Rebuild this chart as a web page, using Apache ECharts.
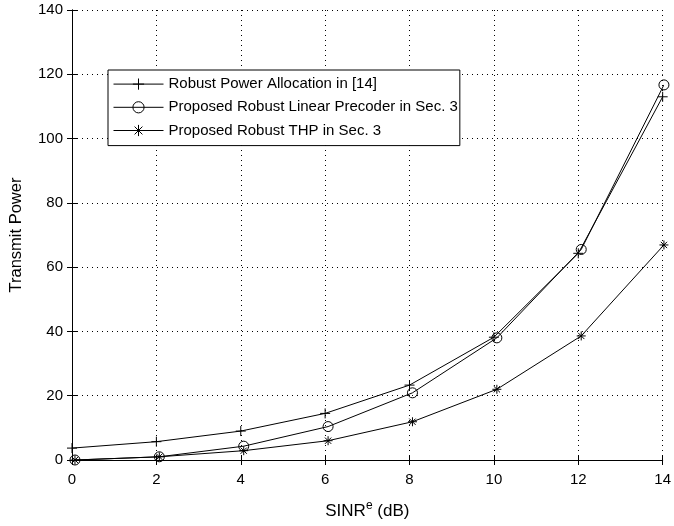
<!DOCTYPE html>
<html>
<head>
<meta charset="utf-8">
<script src="https://cdn.jsdelivr.net/npm/echarts@6/dist/echarts.min.js"></script>
<style>
  html, body { margin: 0; padding: 0; background: #fff; }
  #chart { width: 674px; height: 526px; }
</style>
</head>
<body>
<div id="chart"></div>
<script>
// 数据
var xPlus = [0, 2, 4, 6, 8, 10, 12, 14];
var xShift = [0.07, 2.07, 4.07, 6.07, 8.07, 10.07, 12.07, 14.03];
var robustPA = [3.7, 5.7, 9.0, 14.5, 23.3, 38.2, 64.3, 113];
var robustLinear = [0, 1.0, 4.3, 10.4, 20.9, 38.0, 65.5, 116.7];
var robustTHP = [0, 1.0, 2.9, 6.0, 11.9, 22.0, 38.6, 66.9];
var seriesNames = ['Robust Power Allocation in [14]', 'Proposed Robust Linear Precoder in Sec. 3', 'Proposed Robust THP in Sec. 3'];

function pairs(xs, ys) {
  var out = [];
  ys.forEach(function(v, i) { out.push([xs[i], v]); });
  return out;
}

// 标记形状（只描边）
var plusPath = 'path://M0,-1L0,1M-1,0L1,0';
var circlePath = 'path://M1,0A1,1,0,1,1,-1,0A1,1,0,1,1,1,0Z';
var starPath = 'path://M0,-1L0,1M-1,0L1,0M-0.7,-0.7L0.7,0.7M-0.7,0.7L0.7,-0.7';
var font = 'Liberation Sans, Arial, sans-serif';

var chart = echarts.init(document.getElementById('chart'));

function lineSeries(name, data, symbol, size) {
  return {
    name: name,
    type: 'line',
    data: data,
    symbol: symbol,
    symbolSize: size,
    showAllSymbol: true,
    clip: false,
    lineStyle: { color: '#000', width: 1 },
    itemStyle: { color: 'none', borderColor: '#000', borderWidth: 1 },
    emphasis: { disabled: true },
    z: 5
  };
}

chart.setOption({
  animation: false,
  textStyle: { fontFamily: font },
  grid: { left: 72, right: 4, top: 10, bottom: 66 },
  legend: {
    orient: 'vertical',
    left: 108,
    top: 70,
    itemWidth: 50,
    itemHeight: 14,
    itemGap: 7,
    padding: [6, 2, 7, 5],
    borderColor: '#000',
    borderWidth: 1,
    backgroundColor: '#fff',
    lineStyle: { width: 1, color: '#000' },
    itemStyle: { color: 'none', borderColor: '#000', borderWidth: 1 },
    textStyle: { fontSize: 15, color: '#000', fontFamily: font },
    data: seriesNames
  },
  xAxis: [{
    type: 'value',
    min: 0,
    max: 14,
    interval: 2,
    name: '{a|SINR}{b|e}{a| (dB)}',
    nameLocation: 'middle',
    nameGap: 40,
    nameTextStyle: {
      rich: {
        a: { fontSize: 17, color: '#000', fontFamily: font },
        b: { fontSize: 12, color: '#000', fontFamily: font, padding: [0, 0, 10, 0] }
      }
    },
    axisLine: { lineStyle: { color: '#000', width: 1 } },
    axisTick: { inside: true, length: 5, lineStyle: { color: '#000' } },
    axisLabel: { color: '#000', fontSize: 15, margin: 12 },
    splitLine: { show: true, lineStyle: { color: '#000', type: [1, 4], width: 1 } }
  }, {
    type: 'value',
    position: 'top',
    min: 0,
    max: 14,
    interval: 2,
    axisLine: { show: true, lineStyle: { color: '#000', width: 1 } },
    axisTick: { inside: true, length: 5, lineStyle: { color: '#000' } },
    axisLabel: { show: false },
    splitLine: { show: false }
  }],
  yAxis: [{
    type: 'value',
    min: 0,
    max: 140,
    interval: 20,
    name: 'Transmit Power',
    nameLocation: 'middle',
    nameGap: 47,
    nameTextStyle: { fontSize: 16.5, color: '#000' },
    axisLine: { show: true, lineStyle: { color: '#000', width: 1 } },
    axisTick: { show: true, inside: true, length: 5, lineStyle: { color: '#000' } },
    axisLabel: { color: '#000', fontSize: 15, margin: 9 },
    splitLine: { show: true, lineStyle: { color: '#000', type: [1, 4], width: 1 } }
  }, {
    type: 'value',
    position: 'right',
    min: 0,
    max: 140,
    interval: 20,
    axisLine: { show: true, lineStyle: { color: '#000', width: 1 } },
    axisTick: { show: true, inside: true, length: 5, lineStyle: { color: '#000' } },
    axisLabel: { show: false },
    splitLine: { show: false }
  }],
  series: [
    lineSeries(seriesNames[0], pairs(xPlus, robustPA), plusPath, 10),
    lineSeries(seriesNames[1], pairs(xShift, robustLinear), circlePath, 10),
    lineSeries(seriesNames[2], pairs(xShift, robustTHP), starPath, 9)
  ]
});
</script>
</body>
</html>
